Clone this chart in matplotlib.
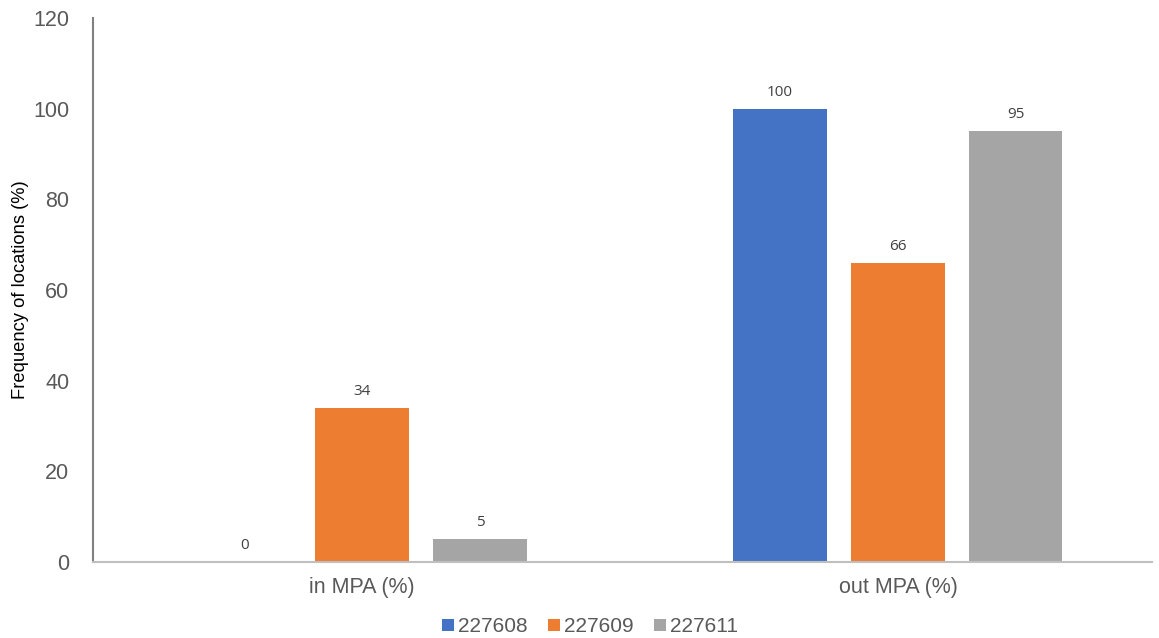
import matplotlib.pyplot as plt
import numpy as np

categories = ["in MPA (%)", "out MPA (%)"]
series_names = ["227608", "227609", "227611"]
values_227608 = [0, 100]
values_227609 = [34, 66]
values_227611 = [5, 95]
colors = ["#4472C4", "#ED7D31", "#A5A5A5"]

plt.rcParams["font.family"] = ["Liberation Sans", "DejaVu Sans"]

fig = plt.figure(figsize=(11.59, 6.38), dpi=100)
ax = fig.add_axes([93 / 1159, 1 - 562 / 638, (1152 - 93) / 1159, (562 - 18) / 638])

x = np.arange(len(categories))
width = 0.174
offset = 0.22
all_values = [values_227608, values_227609, values_227611]
for i, (name, vals, col) in enumerate(zip(series_names, all_values, colors)):
    pos = x + (i - 1) * offset
    ax.bar(pos, vals, width=width, color=col, label=name)
    for px, v in zip(pos, vals):
        ax.text(px, v + 2.0, f"{v}", ha="center", va="bottom",
                fontsize=11, color="#404040", family="Open Sans")

ax.set_xlim(-0.502, 1.474)
ax.set_ylim(0, 120)
ax.set_yticks(range(0, 121, 20))
ax.set_xticks(x)
ax.set_xticklabels(categories, fontsize=15.5, color="#595959")
ax.tick_params(axis="y", labelsize=15.5, labelcolor="#595959", length=0, pad=17)
ax.tick_params(axis="x", length=0, pad=11)
ax.set_ylabel("Frequency of locations (%)", fontsize=13.2, color="black")
ax.yaxis.set_label_coords((29 - 93) / 1059, 0.5)

for side in ["top", "right"]:
    ax.spines[side].set_visible(False)
ax.spines["left"].set_color("#808080")
ax.spines["left"].set_linewidth(1.5)
ax.spines["bottom"].set_color("#BFBFBF")
ax.spines["bottom"].set_linewidth(1.5)

handles, labels = ax.get_legend_handles_labels()
fig.legend(handles, labels, loc="center", bbox_to_anchor=(590 / 1159, 1 - 627 / 638),
           ncol=3, frameon=False, fontsize=15, handlelength=0.55, handleheight=0.55,
           handletextpad=0.2, columnspacing=1.0, labelcolor="#595959",
           borderpad=0.0)

fig.savefig("out.png", dpi=100)
